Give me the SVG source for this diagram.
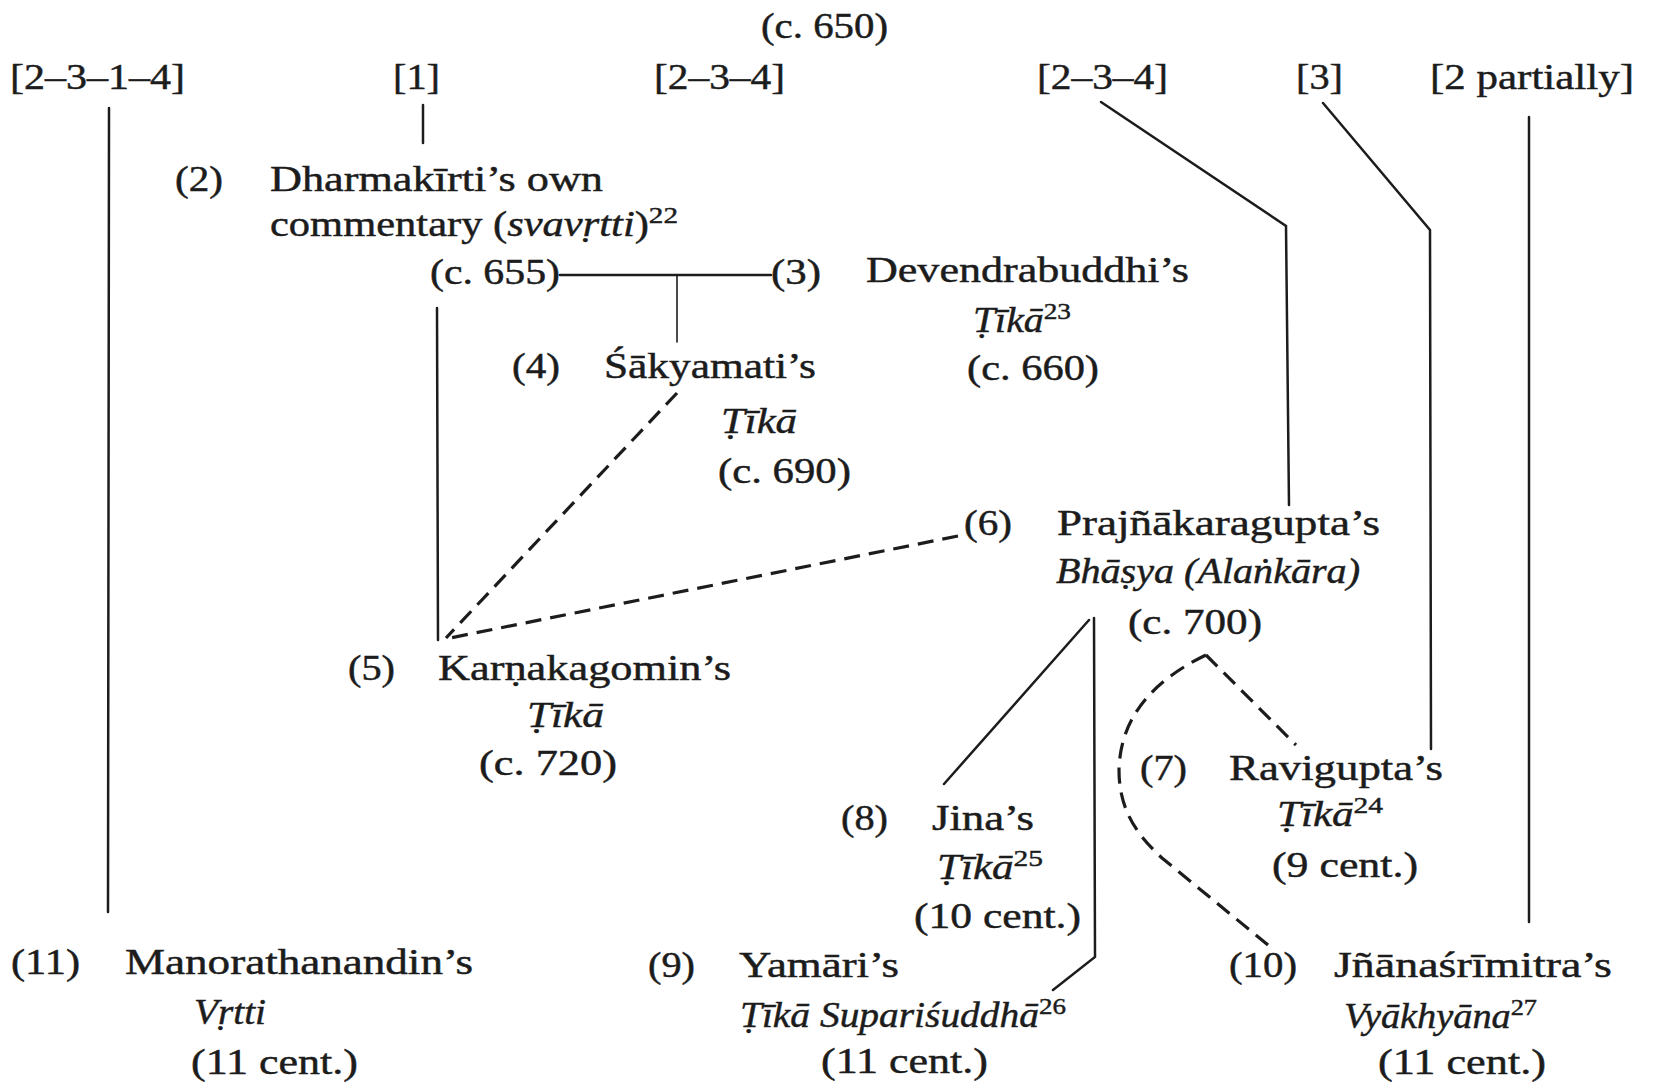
<svg xmlns="http://www.w3.org/2000/svg" width="1662" height="1090" viewBox="0 0 1662 1090">
<style>
.t{font-family:"Liberation Serif","Times New Roman",serif;font-size:35px;fill:#1c1c1c;stroke:#1c1c1c;stroke-width:0.45}
.i{font-style:italic}
.sup{font-size:24px;font-style:normal}
.ln{stroke:#1c1c1c;stroke-width:2.5;fill:none;stroke-linecap:round}
.th{stroke-width:1.6}
.dash{stroke-dasharray:16 9;stroke-width:3.2;stroke-linecap:butt}
</style>
<rect width="1662" height="1090" fill="#ffffff"/>

<g id="connectors">
  <line class="ln" x1="109" y1="108" x2="108" y2="912"/>
  <line class="ln" x1="423" y1="105" x2="423" y2="143"/>
  <line class="ln" x1="560" y1="275" x2="771" y2="275"/>
  <line class="ln th" x1="677" y1="275" x2="677" y2="342"/>
  <line class="ln" x1="437" y1="308" x2="438" y2="640"/>
  <line class="ln dash" x1="677" y1="393" x2="446" y2="638"/>
  <line class="ln dash" x1="958" y1="536" x2="450" y2="638"/>
  <polyline class="ln" points="1101,102 1286,226 1289,505"/>
  <polyline class="ln" points="1323,103 1430,230 1431,749"/>
  <line class="ln" x1="1529" y1="117" x2="1529" y2="922"/>
  <line class="ln" x1="1089" y1="620" x2="944" y2="784"/>
  <polyline class="ln" points="1094,618 1095,957 1053,990"/>
  <line class="ln dash" x1="1206" y1="655" x2="1296" y2="745"/>
  <path class="ln dash" d="M1206,655 C1150,682 1120,720 1119,770 C1119,810 1137,835 1162,858 L1268,945"/>
</g>

<g id="n-top">
  <text class="t" x="761" y="38" textLength="127" lengthAdjust="spacingAndGlyphs">(c. 650)</text>
</g>
<g id="n-src1">
  <text class="t" x="10" y="89" textLength="175" lengthAdjust="spacingAndGlyphs">[2–3–1–4]</text>
</g>
<g id="n-src2">
  <text class="t" x="393" y="89" textLength="47" lengthAdjust="spacingAndGlyphs">[1]</text>
</g>
<g id="n-src3">
  <text class="t" x="654" y="89" textLength="131" lengthAdjust="spacingAndGlyphs">[2–3–4]</text>
</g>
<g id="n-src4">
  <text class="t" x="1037" y="89" textLength="131" lengthAdjust="spacingAndGlyphs">[2–3–4]</text>
</g>
<g id="n-src5">
  <text class="t" x="1296" y="89" textLength="47" lengthAdjust="spacingAndGlyphs">[3]</text>
</g>
<g id="n-src6">
  <text class="t" x="1430" y="89" textLength="204" lengthAdjust="spacingAndGlyphs">[2 partially]</text>
</g>

<g id="node-2">
  <text class="t" x="175" y="191" textLength="48" lengthAdjust="spacingAndGlyphs">(2)</text>
  <text class="t" x="270" y="191" textLength="333" lengthAdjust="spacingAndGlyphs">Dharmakīrti’s own</text>
  <text class="t" x="270" y="236" textLength="408" lengthAdjust="spacingAndGlyphs">commentary (<tspan class="i">svavṛtti</tspan>)<tspan class="sup" dy="-13">22</tspan></text>
  <text class="t" x="430" y="284" textLength="130" lengthAdjust="spacingAndGlyphs">(c. 655)</text>
</g>

<g id="node-3">
  <text class="t" x="771" y="284" textLength="50" lengthAdjust="spacingAndGlyphs">(3)</text>
  <text class="t" x="866" y="282" textLength="323" lengthAdjust="spacingAndGlyphs">Devendrabuddhi’s</text>
  <text class="t" x="973" y="332" textLength="98" lengthAdjust="spacingAndGlyphs"><tspan class="i">Ṭīkā</tspan><tspan class="sup" dy="-13">23</tspan></text>
  <text class="t" x="967" y="380" textLength="132" lengthAdjust="spacingAndGlyphs">(c. 660)</text>
</g>

<g id="node-4">
  <text class="t" x="512" y="378" textLength="48" lengthAdjust="spacingAndGlyphs">(4)</text>
  <text class="t" x="604" y="378" textLength="212" lengthAdjust="spacingAndGlyphs">Śākyamati’s</text>
  <text class="t i" x="721" y="433" textLength="76" lengthAdjust="spacingAndGlyphs">Ṭīkā</text>
  <text class="t" x="718" y="483" textLength="133" lengthAdjust="spacingAndGlyphs">(c. 690)</text>
</g>

<g id="node-6">
  <text class="t" x="964" y="535" textLength="48" lengthAdjust="spacingAndGlyphs">(6)</text>
  <text class="t" x="1057" y="535" textLength="323" lengthAdjust="spacingAndGlyphs">Prajñākaragupta’s</text>
  <text class="t i" x="1056" y="583" textLength="304" lengthAdjust="spacingAndGlyphs">Bhāṣya (Alaṅkāra)</text>
  <text class="t" x="1128" y="634" textLength="134" lengthAdjust="spacingAndGlyphs">(c. 700)</text>
</g>

<g id="node-5">
  <text class="t" x="348" y="680" textLength="47" lengthAdjust="spacingAndGlyphs">(5)</text>
  <text class="t" x="438" y="680" textLength="293" lengthAdjust="spacingAndGlyphs">Karṇakagomin’s</text>
  <text class="t i" x="527" y="727" textLength="77" lengthAdjust="spacingAndGlyphs">Ṭīkā</text>
  <text class="t" x="479" y="775" textLength="138" lengthAdjust="spacingAndGlyphs">(c. 720)</text>
</g>

<g id="node-7">
  <text class="t" x="1140" y="780" textLength="47" lengthAdjust="spacingAndGlyphs">(7)</text>
  <text class="t" x="1229" y="780" textLength="214" lengthAdjust="spacingAndGlyphs">Ravigupta’s</text>
  <text class="t" x="1277" y="826" textLength="106" lengthAdjust="spacingAndGlyphs"><tspan class="i">Ṭīkā</tspan><tspan class="sup" dy="-13">24</tspan></text>
  <text class="t" x="1272" y="877" textLength="146" lengthAdjust="spacingAndGlyphs">(9 cent.)</text>
</g>

<g id="node-8">
  <text class="t" x="841" y="830" textLength="47" lengthAdjust="spacingAndGlyphs">(8)</text>
  <text class="t" x="932" y="830" textLength="102" lengthAdjust="spacingAndGlyphs">Jina’s</text>
  <text class="t" x="937" y="879" textLength="106" lengthAdjust="spacingAndGlyphs"><tspan class="i">Ṭīkā</tspan><tspan class="sup" dy="-13">25</tspan></text>
  <text class="t" x="914" y="928" textLength="167" lengthAdjust="spacingAndGlyphs">(10 cent.)</text>
</g>

<g id="node-11">
  <text class="t" x="11" y="974" textLength="69" lengthAdjust="spacingAndGlyphs">(11)</text>
  <text class="t" x="125" y="974" textLength="348" lengthAdjust="spacingAndGlyphs">Manorathanandin’s</text>
  <text class="t i" x="194" y="1024" textLength="72" lengthAdjust="spacingAndGlyphs">Vṛtti</text>
  <text class="t" x="191" y="1074" textLength="167" lengthAdjust="spacingAndGlyphs">(11 cent.)</text>
</g>

<g id="node-9">
  <text class="t" x="648" y="977" textLength="47" lengthAdjust="spacingAndGlyphs">(9)</text>
  <text class="t" x="739" y="977" textLength="160" lengthAdjust="spacingAndGlyphs">Yamāri’s</text>
  <text class="t" x="740" y="1027" textLength="326" lengthAdjust="spacingAndGlyphs"><tspan class="i">Ṭīkā Supariśuddhā</tspan><tspan class="sup" dy="-13">26</tspan></text>
  <text class="t" x="821" y="1073" textLength="167" lengthAdjust="spacingAndGlyphs">(11 cent.)</text>
</g>

<g id="node-10">
  <text class="t" x="1229" y="977" textLength="68" lengthAdjust="spacingAndGlyphs">(10)</text>
  <text class="t" x="1334" y="977" textLength="278" lengthAdjust="spacingAndGlyphs">Jñānaśrīmitra’s</text>
  <text class="t" x="1344" y="1028" textLength="193" lengthAdjust="spacingAndGlyphs"><tspan class="i">Vyākhyāna</tspan><tspan class="sup" dy="-13">27</tspan></text>
  <text class="t" x="1378" y="1074" textLength="168" lengthAdjust="spacingAndGlyphs">(11 cent.)</text>
</g>
</svg>
